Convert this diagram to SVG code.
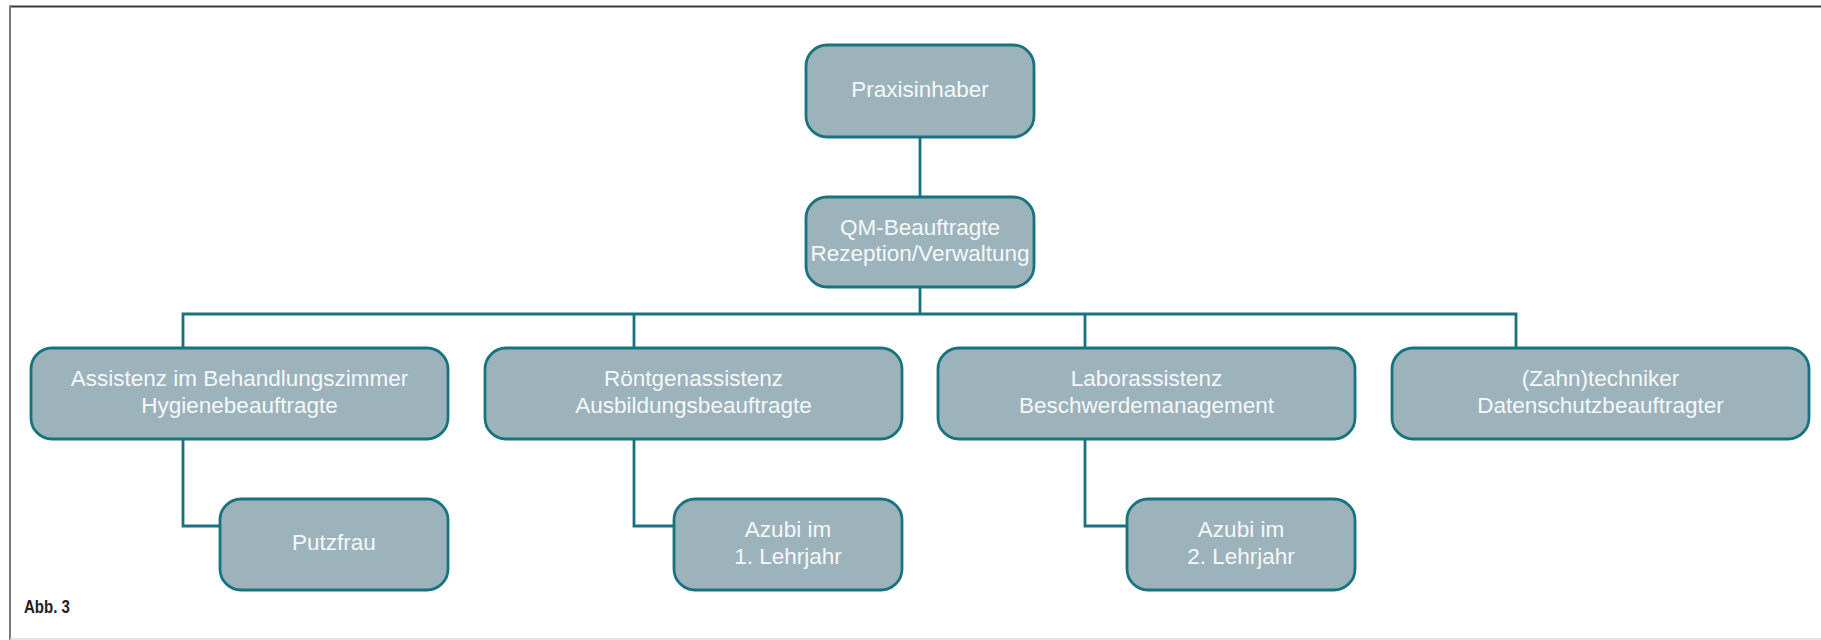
<svg xmlns="http://www.w3.org/2000/svg" width="1821" height="640" viewBox="0 0 1821 640">
<style>
.box{fill:#9db3bc;stroke:#17737d;stroke-width:2.8}
.t{font-family:"Liberation Sans",Arial,sans-serif;font-size:22.5px;fill:#f5f8f9;text-anchor:middle}
.c{fill:none;stroke:#17737d;stroke-width:2.8}
</style>
<rect x="0" y="0" width="1821" height="640" fill="#ffffff"/>
<line x1="9" y1="6.5" x2="1821" y2="6.5" stroke="#3a3a3a" stroke-width="2"/>
<line x1="10" y1="6" x2="10" y2="640" stroke="#7a7a7a" stroke-width="2"/>
<line x1="10" y1="639" x2="1821" y2="639" stroke="#dcdcdc" stroke-width="1.5"/>
<g id="connectors">
<path class="c" d="M920 137V287M920 287V314"/>
<path class="c" d="M183 348V314H1516V348"/>
<path class="c" d="M634 314V348M1085 314V348"/>
<path class="c" d="M183 439V526H220"/>
<path class="c" d="M634 439V526H674"/>
<path class="c" d="M1085 439V526H1127"/>
</g>
<g id="praxisinhaber"><rect class="box" x="806" y="45" width="228" height="92" rx="21"/><text class="t" x="920" y="97">Praxisinhaber</text></g>
<g id="qm"><rect class="box" x="806" y="197" width="228" height="90" rx="21"/><text class="t" x="920" y="235">QM-Beauftragte</text><text class="t" x="920" y="261">Rezeption/Verwaltung</text></g>
<g id="assistenz"><rect class="box" x="31" y="348" width="417" height="91" rx="21"/><text class="t" x="239.5" y="386">Assistenz im Behandlungszimmer</text><text class="t" x="239.5" y="413">Hygienebeauftragte</text></g>
<g id="roentgen"><rect class="box" x="485" y="348" width="417" height="91" rx="21"/><text class="t" x="693.5" y="386">Röntgenassistenz</text><text class="t" x="693.5" y="413">Ausbildungsbeauftragte</text></g>
<g id="labor"><rect class="box" x="938" y="348" width="417" height="91" rx="21"/><text class="t" x="1146.5" y="386">Laborassistenz</text><text class="t" x="1146.5" y="413">Beschwerdemanagement</text></g>
<g id="techniker"><rect class="box" x="1392" y="348" width="417" height="91" rx="21"/><text class="t" x="1600.5" y="386">(Zahn)techniker</text><text class="t" x="1600.5" y="413">Datenschutzbeauftragter</text></g>
<g id="putzfrau"><rect class="box" x="220" y="499" width="228" height="91" rx="21"/><text class="t" x="334" y="550">Putzfrau</text></g>
<g id="azubi1"><rect class="box" x="674" y="499" width="228" height="91" rx="21"/><text class="t" x="788" y="537">Azubi im</text><text class="t" x="788" y="564">1. Lehrjahr</text></g>
<g id="azubi2"><rect class="box" x="1127" y="499" width="228" height="91" rx="21"/><text class="t" x="1241" y="537">Azubi im</text><text class="t" x="1241" y="564">2. Lehrjahr</text></g>
<text x="24" y="613" font-family="'Liberation Sans Narrow','Liberation Sans',Arial,sans-serif" font-weight="bold" font-size="18" fill="#222" textLength="46" lengthAdjust="spacingAndGlyphs">Abb. 3</text>
</svg>
